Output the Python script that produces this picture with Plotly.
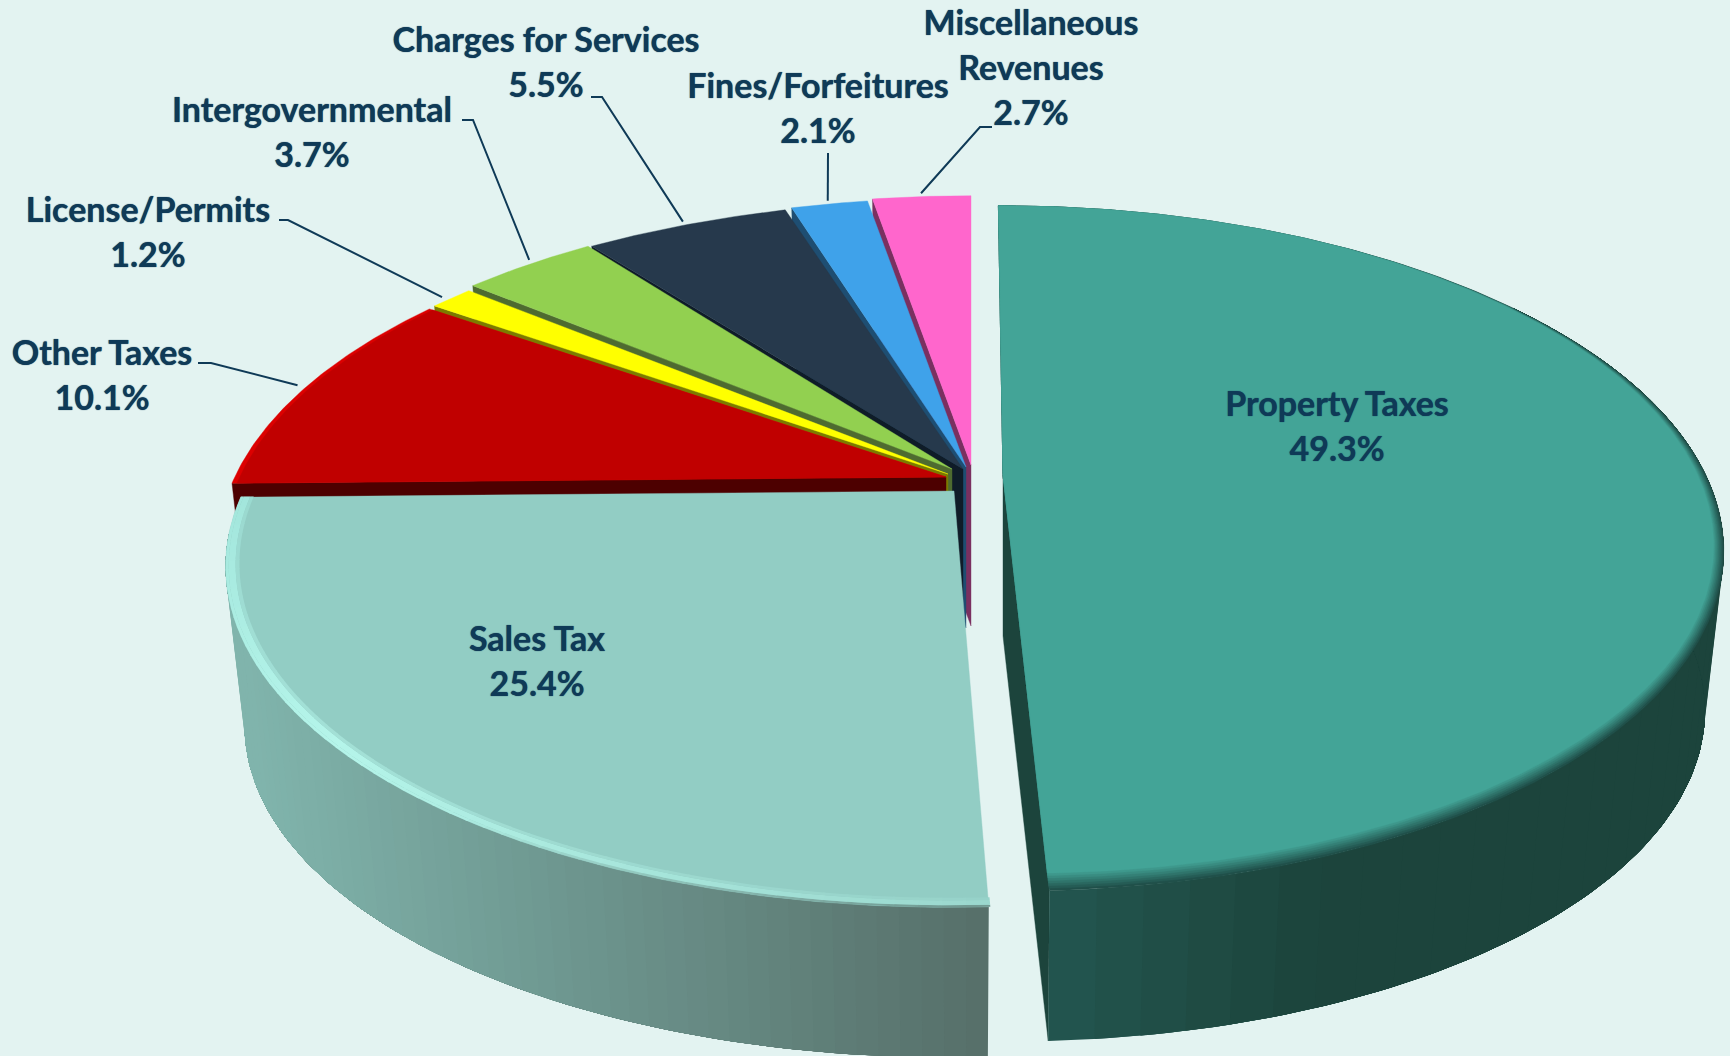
import numpy as np
import plotly.graph_objects as go

# ---- data -------------------------------------------------------------
CATEGORIES = ["Property Taxes", "Sales Tax", "Other Taxes", "License/Permits",
              "Intergovernmental", "Charges for Services", "Fines/Forfeitures",
              "Miscellaneous Revenues"]
VALUES = [49.3, 25.4, 10.1, 1.2, 3.7, 5.5, 2.1, 2.7]

# ---- styles -----------------------------------------------------------
BG = "#E3F3F1"
TEXT = "#0F3A57"
TOP = ["#43A497", "#92CDC4", "#C00000", "#FFFF00", "#92D050", "#26394C", "#3FA2EA", "#FF66CC"]
FACE = ["#1C443C", "#566F69", "#4D0000", "#7B7B00", "#4E6B30", "#0F1C28", "#1E4E72", "#7A3060"]
# per-slice apex, perspective shear and horizontal scale on the canvas
APEX = [(1003, 475), (954, 491), (946, 477), (948, 474), (952, 469), (963, 469), (966, 467), (971, 465)]
SHEAR = [0.017, -0.012, 0, 0, 0, 0, 0, 0]
XSCALE = [0.994, 1.005, 1.006, 1, 1, 1.02, 1, 1]
R, B, K = 707.0, 327.0, 0.2145
LOW_SCALE, LOW_DY = 0.974, 161.0
# label centres (first line) and leader elbows
LABEL_XY = [(1337, 407), (537, 642), (102, 356), (148, 213), (312, 113), (546, 43), (818, 89), (1031, 26)]
LABEL_LINES = [["Property Taxes"], ["Sales Tax"], ["Other Taxes"], ["License/Permits"],
               ["Intergovernmental"], ["Charges for Services"], ["Fines/Forfeitures"],
               ["Miscellaneous", "Revenues"]]
LINE_STEP = 45
LEADERS = {2: ([(198, 363), (211, 363)], 0.5), 3: ([(279, 220), (288, 220)], 0.42),
           4: ([(462, 120), (473, 120)], 0.55), 5: ([(591, 97), (602, 97)], 0.5),
           6: ([(828, 153)], 0.5), 7: ([(992, 127), (980, 127)], 0.5)}

fig = go.Figure()


def hex2rgb(h):
    return np.array([int(h[i:i + 2], 16) for i in (1, 3, 5)], float)


def mix(a, b, t):
    t = float(np.clip(t, 0, 1))
    c = hex2rgb(a) * (1 - t) + hex2rgb(b) * t
    return "#%02X%02X%02X" % tuple(int(v) for v in np.round(c))


def proj(i, th, r=1.0, low=False):
    th = np.radians(th)
    s = 1 / (1 + K * r * np.cos(th))
    m = LOW_SCALE if low else 1.0
    x = R * XSCALE[i] * r * np.sin(th) * s * m
    y = -B * r * np.cos(th) * s * m
    cx, cy = APEX[i]
    return cx + x + SHEAR[i] * y, cy + y + (LOW_DY if low else 0)


def poly(xs, ys, color, lw=0.0):
    fig.add_trace(go.Scatter(x=list(xs), y=list(ys), mode="lines", fill="toself", fillcolor=color,
                             line=dict(color=color, width=lw), hoverinfo="skip", showlegend=False))


edges = np.concatenate([[0], np.cumsum(VALUES)]) * 3.6
T0, T1 = edges[:-1], edges[1:]


def arc(a, b, step=0.5):
    return np.linspace(a, b, max(2, int(abs(b - a) / step) + 1))


def wall(i, a, b, colorfn, n):
    # painted band over band, each band running on to the far end: no seams
    th = np.linspace(a, b, n + 1)
    for p, q in zip(th[:-1], th[1:]):
        t = arc(p, b, 1.0)
        xa, ya = proj(i, t)
        xb, yb = proj(i, t[::-1], low=True)
        xm, _ = proj(i, (p + q) / 2)
        poly(np.r_[xa, xb], np.r_[ya, yb], colorfn(xm))


def top_surface(i, color, rfn=None):
    th = arc(T0[i], T1[i])
    r = np.ones_like(th) if rfn is None else rfn(th)
    x, y = proj(i, th, r)
    cx, cy = APEX[i]
    poly(np.r_[cx, x, cx], np.r_[cy, y, cy], color, 0.4)


def cut_face(i, th, color):
    cx, cy = APEX[i]
    xo, yo = proj(i, th)
    xl, yl = proj(i, th, low=True)
    ax, ay = proj(i, th, 0.0, low=True)
    poly([cx, xo, xl, ax, cx], [cy, yo, yl, ay, cy], color, 0.4)


# Sales wall
wall(1, T0[1], T1[1] - 6, lambda x: mix("#80B4AC", "#566F69", (x - 245) / (988 - 245)), 60)

# Property: cut face, wall, bevelled top
cut_face(0, T1[0], FACE[0])
wall(0, T1[0], 55, lambda x: mix("#235650", "#1C443C", (x - 1047) / (1310 - 1047)), 40)
for t in np.linspace(0, 1, 8):
    def rfn(th, t=t):
        w = np.interp(th, [30, 75, 120, 178], [0.0, 0.009, 0.016, 0.034])
        return 1 - w * t
    top_surface(0, mix("#20504A", TOP[0], t), rfn)

# Small back slices: far right first, so each nearer one overlaps
for i in range(7, 1, -1):
    cut_face(i, T0[i], FACE[i])
    if i == 2:
        top_surface(i, "#DC0000")
        top_surface(i, TOP[i], lambda th: np.full_like(th, 0.993))
    else:
        top_surface(i, TOP[i])

# Sales top with its light bevel
top_surface(1, TOP[1])
th = np.linspace(T0[1], T1[1], 61)
for p, q in zip(th[:-1], th[1:]):
    m = (p + q) / 2
    rim = mix("#9BD8CE", "#B5F5EA", (m - 178) / 50) if m < 228 else mix("#B5F5EA", "#A3E6DC", (m - 228) / 40)
    outer = mix(rim, "#5F7F78", np.clip((215 - m) / 35, 0, 1) * 0.7)
    inner = mix(rim, TOP[1], 0.5)
    for r0, r1, col in [(1.0, 0.996, outer), (0.996, 0.987, rim), (0.987, 0.982, inner)]:
        xa, ya = proj(1, np.array([p - 0.1, q + 0.1]), r0)
        xb, yb = proj(1, np.array([q + 0.1, p - 0.1]), r1)
        poly(np.r_[xa, xb], np.r_[ya, yb], col)

# leader lines: from the elbow to just outside the rim of the slice
for i, (pts, frac) in LEADERS.items():
    ex, ey = proj(i, T0[i] + frac * (T1[i] - T0[i]), 1.015)
    fig.add_trace(go.Scatter(x=[p[0] for p in pts] + [ex], y=[p[1] for p in pts] + [ey], mode="lines",
                             line=dict(color="#0F3A57", width=2), hoverinfo="skip", showlegend=False))

# labels
tx, ty, tt = [], [], []
for (x0, y0), lines, v in zip(LABEL_XY, LABEL_LINES, VALUES):
    for k, s in enumerate(lines + [f"{v:.1f}%"]):
        tx.append(x0)
        ty.append(y0 + k * LINE_STEP)
        tt.append(s)
fig.add_trace(go.Scatter(x=tx, y=ty, text=tt, mode="text", textposition="middle center",
                         textfont=dict(family="Lato", size=34, color=TEXT, weight=700,
                                       shadow="0 0 1px #0F3A57"),
                         hoverinfo="skip", showlegend=False))

fig.update_layout(width=1730, height=1056, margin=dict(l=0, r=0, t=0, b=0),
                  paper_bgcolor=BG, plot_bgcolor=BG, showlegend=False,
                  xaxis=dict(range=[0, 1730], visible=False, fixedrange=True),
                  yaxis=dict(range=[1056, 0], visible=False, fixedrange=True))
fig.write_html("out.html", config={"displayModeBar": False},
               post_script="document.body.style.margin='0';document.body.style.overflow='hidden';")
